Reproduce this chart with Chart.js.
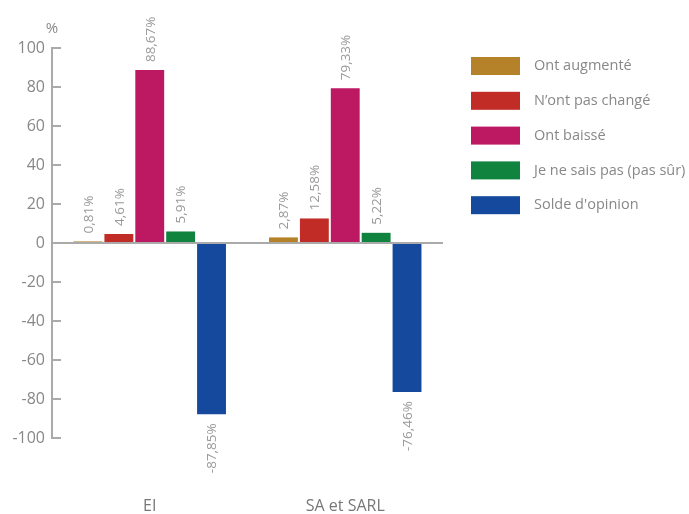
<!DOCTYPE html>
<html lang="fr">
<head>
  <meta charset="UTF-8">
  <title>Opinion</title>
  <script src="https://cdn.jsdelivr.net/npm/chart.js@4.4.0/dist/chart.umd.min.js"></script>
  <style>
    * { box-sizing: border-box; margin: 0; padding: 0; }
    body { background: #fff; overflow: hidden; }
    #wrap { width: 689px; height: 514px; position: relative; }
  </style>
</head>
<body>
  <div id="wrap"><canvas id="myChart"></canvas></div>
  <script>
    const categories = ['EI', 'SA et SARL'];
    const seriesNames = ['Ont augmenté', "N’ont pas changé", 'Ont baissé', 'Je ne sais pas (pas sûr)', "Solde d'opinion"];
    const augmente = [0.81, 2.87];
    const pasChange = [4.61, 12.58];
    const baisse = [88.67, 79.33];
    const nsp = [5.91, 5.22];
    const solde = [-87.85, -76.46];
    const yTicks = [100, 80, 60, 40, 20, 0, -20, -40, -60, -80, -100];

    const colors = ['#B5822A', '#C12C26', '#BD1862', '#10833F', '#15499D'];
    const series = [augmente, pasChange, baisse, nsp, solde];
    const FONT = '"Open Sans", sans-serif';

    const decor = {
      id: 'decor',
      afterDraw(chart) {
        const ctx = chart.ctx;
        const y = chart.scales.y;
        const area = chart.chartArea;
        ctx.save();
        // inward tick marks on the y axis
        ctx.strokeStyle = '#aaa';
        ctx.lineWidth = 2;
        yTicks.forEach(v => {
          const py = Math.round(y.getPixelForValue(v));
          ctx.beginPath();
          ctx.moveTo(area.left, py);
          ctx.lineTo(area.left + 9, py);
          ctx.stroke();
        });
        // unit
        ctx.fillStyle = '#888';
        ctx.font = '15px ' + FONT;
        ctx.textAlign = 'center';
        ctx.textBaseline = 'middle';
        ctx.fillText('%', area.left, 29);

        // value labels, rotated
        ctx.font = '13.5px ' + FONT;
        ctx.fillStyle = '#999';
        chart.data.datasets.forEach((ds, i) => {
          const meta = chart.getDatasetMeta(i);
          meta.data.forEach((bar, j) => {
            const v = ds.data[j];
            const txt = v.toFixed(2).replace('.', ',') + '%';
            ctx.save();
            if (v >= 0) {
              ctx.translate(bar.x + 1, bar.y - 8);
              ctx.rotate(-Math.PI / 2);
              ctx.textAlign = 'left';
            } else {
              ctx.translate(bar.x + 1, bar.y + 9);
              ctx.rotate(-Math.PI / 2);
              ctx.textAlign = 'right';
            }
            ctx.textBaseline = 'middle';
            ctx.fillText(txt, 0, 0);
            ctx.restore();
          });
        });

        // legend
        ctx.font = '14.5px ' + FONT;
        ctx.textAlign = 'left';
        ctx.textBaseline = 'middle';
        seriesNames.forEach((name, i) => {
          const cy = 66 + i * 34.8;
          ctx.fillStyle = colors[i];
          ctx.fillRect(471, cy - 9, 49, 18);
          ctx.fillStyle = '#888';
          ctx.fillText(name, 534, cy);
        });
        ctx.restore();
      }
    };

    new Chart(document.getElementById('myChart'), {
      type: 'bar',
      data: {
        labels: categories,
        datasets: series.map((d, i) => ({
          label: seriesNames[i],
          data: d,
          backgroundColor: colors[i],
          categoryPercentage: 0.79,
          barPercentage: 0.935
        }))
      },
      options: {
        responsive: true,
        maintainAspectRatio: false,
        animation: false,
        layout: { padding: { left: 0, right: 246, top: 48, bottom: 0 } },
        plugins: { legend: { display: false }, tooltip: { enabled: false } },
        scales: {
          x: {
            grid: { display: false },
            border: { display: false },
            ticks: { color: '#777', font: { family: FONT, size: 16 }, padding: 51 },
            afterFit: s => { s.height = 76; }
          },
          y: {
            min: -100,
            max: 100,
            afterBuildTicks: axis => { axis.ticks = yTicks.map(v => ({ value: v })); },
            grid: {
              drawTicks: false,
              color: c => c.tick && c.tick.value === 0 ? '#aaa' : 'rgba(0,0,0,0)',
              lineWidth: 2
            },
            border: { display: true, color: '#aaa', width: 2 },
            ticks: { color: '#888', font: { family: FONT, size: 16 }, padding: 7 },
            afterFit: s => { s.width = 52; }
          }
        }
      },
      plugins: [decor]
    });
  </script>
</body>
</html>
